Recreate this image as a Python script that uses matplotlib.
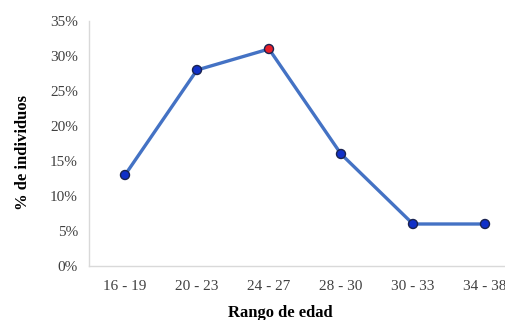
import matplotlib.pyplot as plt
from matplotlib.ticker import FuncFormatter

# datos
rangos = ['16 - 19', '20 - 23', '24 - 27', '28 - 30', '30 - 33', '34 - 38']
porcentaje = [13, 28, 31, 16, 6, 6]
punto_rojo = 2  # rango con mayor porcentaje

fig = plt.figure(figsize=(5.06, 3.2), dpi=100)
ax = fig.add_axes([89/506, 54/320, 432/506, 245/320])

x = list(range(len(rangos)))
ax.plot(x, porcentaje, color='#4472C4', lw=2.4, zorder=2)
colores = ['#1030c8'] * len(rangos)
colores[punto_rojo] = '#e8202a'
ax.scatter(x, porcentaje, s=42, c=colores, edgecolors='#1a2350', linewidths=1.0, zorder=3)

ax.set_xlim(-0.5, len(rangos) - 0.5)
ax.set_ylim(0, 35)
ax.set_yticks(range(0, 36, 5))
ax.yaxis.set_major_formatter(FuncFormatter(lambda v, p: f'{int(v)}%'))
ax.set_xticks(x)
ax.set_xticklabels(rangos)

for s in ['top', 'right']:
    ax.spines[s].set_visible(False)
for s in ['left', 'bottom']:
    ax.spines[s].set_color('#d9d9d9')
    ax.spines[s].set_linewidth(1.0)
ax.tick_params(axis='x', length=0, labelsize=11, colors='#404040', pad=10)
ax.tick_params(axis='y', length=0, labelsize=11, colors='#404040', pad=8)
for lab in ax.get_xticklabels() + ax.get_yticklabels():
    lab.set_family('Liberation Serif')

ax.set_xlabel('Rango de edad', fontsize=12, fontweight='bold', family='Liberation Serif')
ax.set_ylabel('% de individuos', fontsize=12, fontweight='bold', family='Liberation Serif')
ax.xaxis.set_label_coords((280 - 89) / 432, -39 / 245)
ax.yaxis.set_label_coords(-58 / 432, (266 - 152) / 245)

fig.savefig('out.png', dpi=100)
